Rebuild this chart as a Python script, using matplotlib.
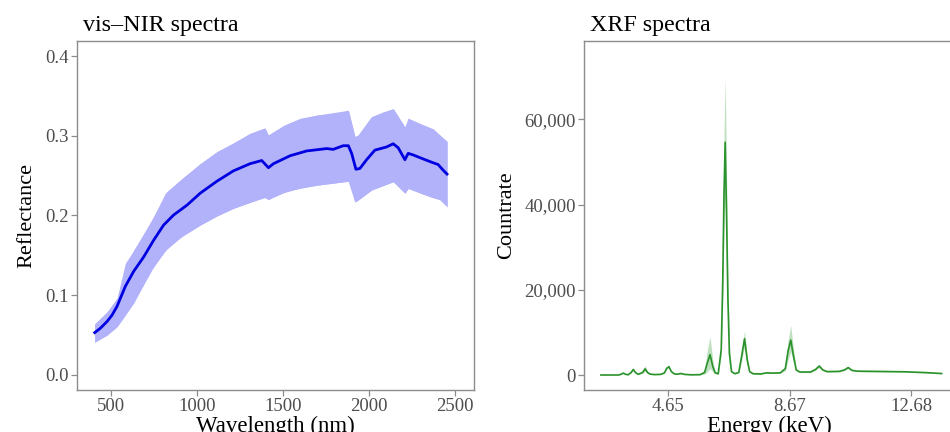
import numpy as np
import matplotlib.pyplot as plt
from matplotlib.ticker import FuncFormatter

plt.rcParams['font.family'] = ['Liberation Serif', 'DejaVu Serif']

### vis-NIR data
wl_mean = [403, 436, 475, 504, 533, 581, 630, 688, 746, 804, 862, 940, 1017, 1114, 1210,
           1307, 1375, 1414, 1443, 1540, 1636, 1753, 1791, 1849, 1879, 1898, 1923, 1946,
           1985, 2033, 2101, 2140, 2169, 2208, 2227, 2256, 2314, 2362, 2401, 2430, 2453]
refl_mean = [0.053, 0.0585, 0.067, 0.075, 0.086, 0.111, 0.130, 0.148, 0.169, 0.188, 0.2006,
             0.213, 0.228, 0.243, 0.256, 0.265, 0.269, 0.260, 0.265, 0.275, 0.281, 0.284,
             0.283, 0.2876, 0.2876, 0.278, 0.258, 0.259, 0.270, 0.282, 0.286, 0.290, 0.285,
             0.270, 0.278, 0.276, 0.271, 0.267, 0.264, 0.257, 0.252]

wl_up = [403, 475, 533, 581, 668, 746, 814, 901, 1017, 1114, 1210, 1307, 1394, 1414, 1501,
         1598, 1695, 1791, 1879, 1917, 1936, 2014, 2081, 2140, 2208, 2227, 2314, 2372, 2411, 2453]
refl_up = [0.064, 0.079, 0.096, 0.140, 0.169, 0.1985, 0.228, 0.2445, 0.265, 0.280, 0.291,
           0.303, 0.310, 0.301, 0.313, 0.322, 0.326, 0.327, 0.332, 0.299, 0.301, 0.324,
           0.330, 0.334, 0.311, 0.322, 0.313, 0.309, 0.301, 0.293]

wl_lo = [403, 475, 533, 630, 727, 824, 920, 1017, 1114, 1210, 1307, 1385, 1414, 1443, 1540,
         1695, 1879, 1917, 1936, 2014, 2140, 2208, 2227, 2353, 2411, 2453]
refl_lo = [0.041, 0.050, 0.0606, 0.090, 0.130, 0.159, 0.1755, 0.188, 0.1994, 0.209, 0.2165,
           0.2236, 0.220, 0.2236, 0.232, 0.238, 0.243, 0.217, 0.2194, 0.232, 0.2424, 0.228,
           0.234, 0.2236, 0.220, 0.211]

### XRF data
energy = [2.42, 3.00, 3.08, 3.16, 3.24, 3.32, 3.42, 3.49, 3.56, 3.65,
          3.80, 3.88, 3.96, 4.05, 4.20, 4.40, 4.52, 4.60, 4.67, 4.75,
          4.85, 4.95, 5.07, 5.18, 5.40, 5.70, 5.85, 5.93, 6.03, 6.12,
          6.20, 6.30, 6.40, 6.45, 6.49, 6.53, 6.57, 6.62, 6.67, 6.74,
          6.85, 6.98, 7.06, 7.17, 7.26, 7.34, 7.45, 7.70, 7.90, 8.10,
          8.35, 8.52, 8.61, 8.70, 8.79, 8.88, 9.00, 9.35, 9.52, 9.64,
          9.76, 9.90, 10.3, 10.48, 10.60, 10.72, 10.9, 11.5, 12.5, 13.2, 13.69]
counts = [0, 0, 150, 450, 150, 60, 600, 1300, 600, 150,
          600, 1450, 600, 200, 100, 150, 500, 1600, 1950, 800,
          250, 200, 350, 150, 50, 80, 600, 2600, 4800, 2000,
          500, 300, 6000, 22000, 42000, 54600, 40000, 18000, 5000, 800,
          300, 600, 3800, 8500, 3500, 800, 300, 250, 500, 450,
          500, 1500, 5600, 8200, 4500, 1200, 700, 700, 1300, 2100,
          1200, 800, 850, 1200, 1750, 1100, 900, 850, 750, 550, 350]
counts_up = [0, 0, 200, 550, 200, 100, 750, 1600, 750, 200,
             800, 2200, 900, 300, 150, 200, 600, 1800, 2150, 900,
             300, 250, 450, 200, 100, 150, 1200, 5500, 9000, 3500,
             700, 400, 8000, 30000, 56000, 70000, 50000, 24000, 7000, 1000,
             400, 700, 4800, 10400, 4500, 1000, 400, 350, 600, 550,
             600, 2000, 8000, 11700, 6000, 1500, 850, 850, 1500, 2500,
             1400, 950, 1000, 1350, 2000, 1250, 1050, 1000, 850, 650, 450]
counts_lo = [0, 0, 100, 350, 100, 30, 450, 1000, 450, 100,
             400, 900, 400, 100, 50, 100, 400, 1400, 1750, 700,
             200, 150, 250, 100, 0, 30, 200, 700, 1500, 800,
             300, 200, 4500, 17000, 34000, 42000, 32000, 14000, 3500, 600,
             200, 500, 2800, 6600, 2500, 600, 200, 150, 400, 350,
             400, 1000, 3500, 5500, 3000, 900, 550, 550, 1100, 1700,
             1000, 650, 700, 1050, 1500, 950, 750, 700, 650, 450, 250]

fig = plt.figure(figsize=(9.5, 4.32), dpi=100)
W, H = 950, 432
ax1 = fig.add_axes([77 / W, 42 / H, 397 / W, 349 / H])
ax2 = fig.add_axes([584 / W, 42 / H, 370 / W, 349 / H])

frame = '#8c8c8c'
tickc = '#4d4d4d'
for ax in (ax1, ax2):
    for s in ax.spines.values():
        s.set_color(frame)
        s.set_linewidth(1.0)
    ax.tick_params(direction='out', length=4, width=0.9, color=frame,
                   labelcolor=tickc, labelsize=13.5, pad=2)

### vis-NIR panel
ax1.fill_between(wl_up, refl_up, np.interp(wl_up, wl_lo, refl_lo), color='#b2b2fb', lw=0)
ax1.fill_between(wl_lo, np.interp(wl_lo, wl_up, refl_up), refl_lo, color='#b2b2fb', lw=0)
ax1.plot(wl_mean, refl_mean, color='#0000e0', lw=2.0)
ax1.set_xlim(300, 2610)
ax1.set_ylim(-0.019, 0.419)
ax1.set_xticks([500, 1000, 1500, 2000, 2500])
ax1.set_yticks([0.0, 0.1, 0.2, 0.3, 0.4])
ax1.yaxis.set_major_formatter(FuncFormatter(lambda v, p: f'{v:.1f}'))
ax1.set_xlabel('Wavelength (nm)', fontsize=16.5, labelpad=0.5)
ax1.set_ylabel('Reflectance', fontsize=16, labelpad=6)
t1 = ax1.set_title('vis\u2013NIR spectra', fontsize=17.3, loc='left', pad=7)
t1.set_x(6 / 397)

### XRF panel
ax2.fill_between(energy, counts_lo, counts_up, color='#2e9a2e', alpha=0.3, lw=0)
ax2.plot(energy, counts, color='#2a922a', lw=1.2)
ax2.set_xlim(1.86, 14.1)
ax2.set_ylim(-3520, 78380)
ax2.set_xticks([4.65, 8.67, 12.68])
ax2.set_yticks([0, 20000, 40000, 60000])
ax2.yaxis.set_major_formatter(FuncFormatter(lambda v, p: f'{int(v):,}'))
ax2.set_xlabel('Energy (keV)', fontsize=16.5, labelpad=0.5)
ax2.set_ylabel('Countrate', fontsize=16, labelpad=6)
t2 = ax2.set_title('XRF spectra', fontsize=17.3, loc='left', pad=7)
t2.set_x(6 / 370)

plt.savefig('out.png', dpi=100)
